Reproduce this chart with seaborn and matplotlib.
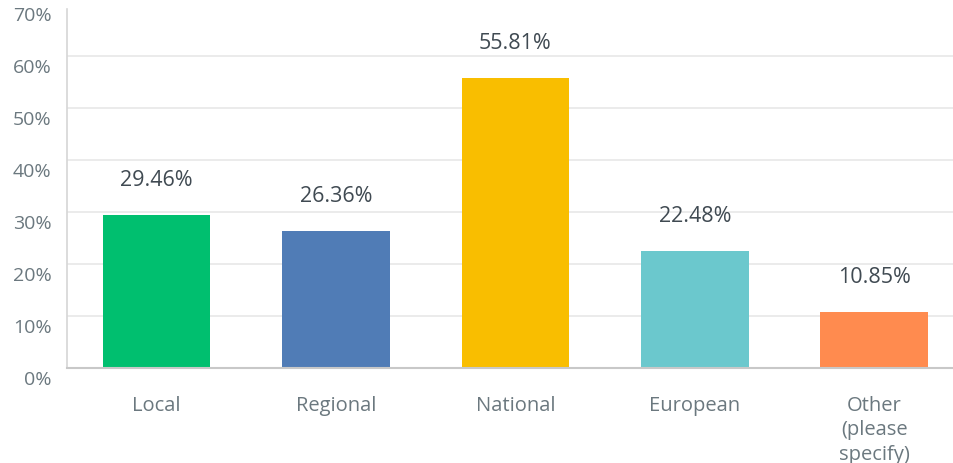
import pandas as pd
import matplotlib.pyplot as plt
import matplotlib.transforms as mtransforms
import seaborn as sns

# Survey answers and shares (percent)
categories = ["Local", "Regional", "National", "European", "Other\n(please\nspecify)"]
shares = [29.46, 26.36, 55.81, 22.48, 10.85]
bar_colors = ["#00BF6F", "#507CB6", "#F9BE00", "#6BC8CD", "#FF8B4F"]
y_ticks = [0, 10, 20, 30, 40, 50, 60, 70]

df = pd.DataFrame({"category": categories, "share": shares})

sns.set_theme(style="white")
plt.rcParams["font.family"] = ["Open Sans", "DejaVu Sans"]

fig = plt.figure(figsize=(9.54, 4.63), dpi=100)
ax = fig.add_axes([0.0702, 0.2052, 0.9403, 0.7862])

sns.barplot(data=df, x="category", y="share", hue="category",
            palette=bar_colors, width=0.6, legend=False, ax=ax,
            saturation=1, edgecolor="none")

ax.set_xlim(-0.5, len(categories) - 0.5)
ax.set_ylim(0, 70)
ax.set_yticks(y_ticks)
ax.set_yticklabels([f"{t}%" for t in y_ticks])
ax.set_xlabel("")
ax.set_ylabel("")

# light horizontal gridlines (none at the very top)
ax.yaxis.grid(True, color="#e8e8e8", linewidth=1.2)
ax.set_axisbelow(True)
ax.yaxis.get_gridlines()[-1].set_visible(False)

for side in ["top", "right"]:
    ax.spines[side].set_visible(False)
ax.spines["left"].set_color("#d6d6d6")
ax.spines["bottom"].set_color("#c8c8c8")
ax.spines["left"].set_linewidth(1.2)
ax.spines["bottom"].set_linewidth(1.5)
ax.spines["left"].set_bounds(0, 69)

ax.tick_params(axis="y", length=0, pad=11, labelsize=14, labelcolor="#6b787f")
ax.tick_params(axis="x", length=0, pad=20, labelsize=14.5, labelcolor="#6b787f")

# y labels sit a little below their gridlines
offset = mtransforms.ScaledTranslation(0, -0.1, fig.dpi_scale_trans)
for lbl in ax.get_yticklabels():
    lbl.set_transform(lbl.get_transform() + offset)
for lbl in ax.get_xticklabels():
    lbl.set_linespacing(1.3)
    lbl.set_verticalalignment("top")

for container in ax.containers:
    ax.bar_label(container, fmt="%.2f%%", padding=17, fontsize=15.5, color="#404a52")

fig.savefig("out.png", dpi=100)
